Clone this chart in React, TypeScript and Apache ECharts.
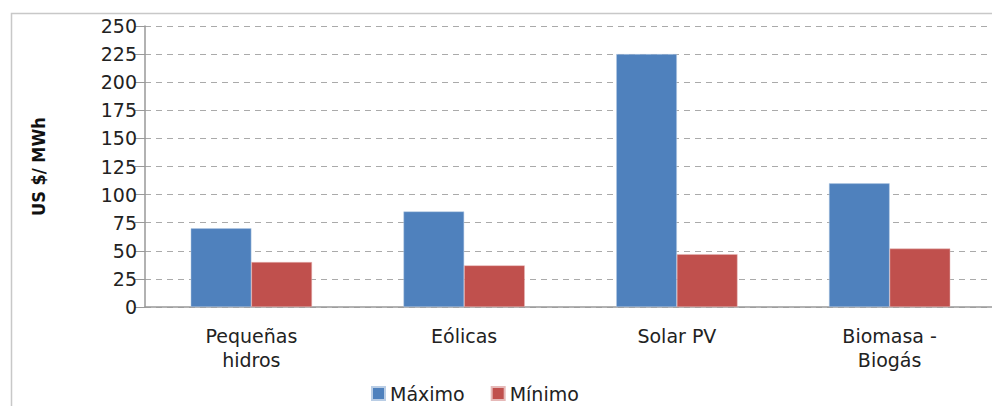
import React, { useEffect, useRef } from "react";
import * as echarts from "echarts";

const categories = ["Pequeñas\nhidros", "Eólicas", "Solar PV", "Biomasa -\nBiogás"];
const maximo = [70, 85, 225, 110];
const minimo = [40, 37, 47, 52];
const seriesNames = ["Máximo", "Mínimo"];
const yAxisTitle = "US $/ MWh";

export default function App() {
  const ref = useRef<HTMLDivElement>(null);
  useEffect(() => {
    if (!ref.current) return;
    const chart = echarts.init(ref.current, null, { renderer: "svg" });
    chart.setOption({
      animation: false,
      backgroundColor: "#ffffff",
      graphic: [
        {
          type: "rect",
          shape: { x: 11.5, y: 13.5, width: 1000, height: 500 },
          style: { fill: "none", stroke: "#c8c8c8", lineWidth: 1.5 },
          silent: true,
        },
      ],
      legend: {
        left: 366,
        top: 379,
        itemWidth: 13,
        itemHeight: 13,
        itemGap: 26,
        icon: "rect",
        textStyle: { fontFamily: "DejaVu Sans", fontSize: 19, color: "#222" },
        data: seriesNames,
      },
      grid: { left: 145, top: 26, bottom: 99, right: 3, containLabel: false },
      xAxis: {
        type: "category",
        data: categories,
        axisLine: { lineStyle: { color: "#999", width: 1.5 } },
        axisTick: { show: false },
        axisLabel: {
          fontFamily: "DejaVu Sans",
          fontSize: 19,
          color: "#222",
          lineHeight: 24,
          margin: 17,
        },
      },
      yAxis: {
        type: "value",
        min: 0,
        max: 250,
        interval: 25,
        name: yAxisTitle,
        nameLocation: "middle",
        nameGap: 98,
        nameTextStyle: {
          fontFamily: "DejaVu Sans Condensed",
          fontWeight: "bold",
          fontSize: 18,
          color: "#111",
        },
        axisLine: { show: true, lineStyle: { color: "#999", width: 1.5 } },
        axisTick: { show: true, length: 10, lineStyle: { color: "#999" } },
        axisLabel: { fontFamily: "DejaVu Sans", fontSize: 19, color: "#222", margin: 8 },
        splitLine: { lineStyle: { color: "#aaa", type: [6, 5], width: 1 } },
      },
      series: [
        {
          name: seriesNames[0],
          type: "bar",
          data: maximo,
          barGap: "0%",
          barCategoryGap: "43%",
          itemStyle: { color: "#4f81bd", borderColor: "#b9cde5", borderWidth: 0.5 },
        },
        {
          name: seriesNames[1],
          type: "bar",
          data: minimo,
          itemStyle: { color: "#c0504d", borderColor: "#e6b9b8", borderWidth: 0.5 },
        },
      ],
    });
    return () => chart.dispose();
  }, []);
  return (
    <div
      ref={ref}
      style={{ position: "fixed", left: 0, top: 0, width: 999, height: 406 }}
    />
  );
}
